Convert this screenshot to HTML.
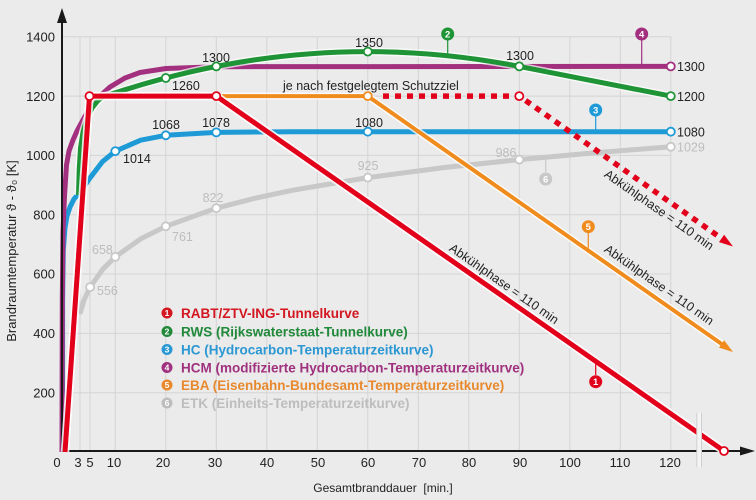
<!DOCTYPE html>
<html><head><meta charset="utf-8">
<style>
html,body{margin:0;padding:0;background:#ebebeb;}
svg{display:block;}
text{font-family:"Liberation Sans","DejaVu Sans",sans-serif;}
</style></head>
<body>
<svg width="756" height="500" viewBox="0 0 756 500" xmlns="http://www.w3.org/2000/svg">
<rect width="756" height="500" fill="#ebebeb"/>
<!-- grid -->
<g stroke="#d4d4d4" stroke-width="1">
<line x1="62" y1="36.8" x2="671" y2="36.8"/>
<line x1="62" y1="96.1" x2="671" y2="96.1"/>
<line x1="62" y1="155.4" x2="671" y2="155.4"/>
<line x1="62" y1="214.7" x2="671" y2="214.7"/>
<line x1="62" y1="274" x2="671" y2="274"/>
<line x1="62" y1="333.4" x2="671" y2="333.4"/>
<line x1="62" y1="392.7" x2="671" y2="392.7"/>
<line x1="80" y1="36.8" x2="80" y2="451"/>
<line x1="90" y1="36.8" x2="90" y2="451"/>
<line x1="115.3" y1="36.8" x2="115.3" y2="451"/>
<line x1="165.8" y1="36.8" x2="165.8" y2="451"/>
<line x1="216.3" y1="36.8" x2="216.3" y2="451"/>
<line x1="266.8" y1="36.8" x2="266.8" y2="451"/>
<line x1="317.3" y1="36.8" x2="317.3" y2="451"/>
<line x1="367.8" y1="36.8" x2="367.8" y2="451"/>
<line x1="418.3" y1="36.8" x2="418.3" y2="451"/>
<line x1="468.8" y1="36.8" x2="468.8" y2="451"/>
<line x1="519.3" y1="36.8" x2="519.3" y2="451"/>
<line x1="569.8" y1="36.8" x2="569.8" y2="451"/>
<line x1="620.3" y1="36.8" x2="620.3" y2="451"/>
<line x1="670.8" y1="36.8" x2="670.8" y2="451"/>
</g>

<!-- ETK gray -->
<polyline fill="none" stroke="#c8c8c8" stroke-width="5" stroke-linejoin="round" stroke-linecap="round"
 points="80.5,312 84,300 90.1,287.1 102.7,269.3 115.3,256.8 140.6,238.9 165.8,226.3 216.3,208.2 254.2,198.4 292.1,190.3 367.8,177.6 443.5,167.6 519.3,159.6 595.1,152.7 670.8,146.8"/>
<!-- HC blue -->
<polyline fill="none" stroke="#1e9ad6" stroke-width="5" stroke-linejoin="round"
 points="62.5,452 62.6,300 63.3,250 65,228 67,216 70,207 74,199 80,192 85,185.1 90.1,177.8 102.7,161.4 115.3,151.2 140.6,140.2 165.8,135.3 216.3,132.4 292.1,131.7 670.8,131.7"/>
<!-- HCM magenta -->
<polyline fill="none" stroke="#a2307f" stroke-width="5" stroke-linejoin="round"
 points="62,452 62.3,300 63,232 64.5,196 66.5,165 69,151 73,140 77,131 84,118 90,108 100,96 110,87 125,78 140,72.5 166,68.5 216,66.7 671,66.4"/>
<!-- RWS green -->
<path d="M78.5,195 L79.2,170 L80.5,148 L83,132 L87,119 L92,108 L98,100.5 L103,96.8 L115.3,92.8 Q317.3,26.87 519.3,66.42 L670.8,96.1" fill="none" stroke="#ffffff" stroke-opacity="0.7" stroke-width="8" stroke-linejoin="round"/>
<path d="M78.5,195 L79.2,170 L80.5,148 L83,132 L87,119 L92,108 L98,100.5 L103,96.8 L115.3,92.8 Q317.3,26.87 519.3,66.42 L670.8,96.1" fill="none" stroke="#1f9437" stroke-width="5" stroke-linejoin="round"/>

<!-- orange EBA -->
<path d="M222,96.1 L367.8,96.1 L724,345.6" fill="none" stroke="#ffffff" stroke-opacity="0.8" stroke-width="7"/>
<path d="M222,96.1 L367.8,96.1 L724,345.6" fill="none" stroke="#f08c1e" stroke-width="4"/>
<polygon points="0,0 -14,-4.5 -14,4.5" fill="#f08c1e" transform="translate(733,352) rotate(35)"/>

<!-- red dotted -->
<path d="M383,96.1 L519.3,96.1 L724,240.2" fill="none" stroke="#e2001a" stroke-width="5.5" stroke-dasharray="6 6"/>
<polygon points="0,0 -14,-4.5 -14,4.5" fill="#e2001a" transform="translate(733,246.5) rotate(35)"/>

<!-- axes -->
<line x1="62" y1="451" x2="742" y2="451" stroke="#1a1a1a" stroke-width="2"/>
<polygon points="755,451 740,446.5 740,455.5" fill="#1a1a1a"/>
<line x1="62" y1="452" x2="62" y2="20" stroke="#1a1a1a" stroke-width="2"/>
<polygon points="62,8 57,23 67,23" fill="#1a1a1a"/>

<!-- red RABT -->
<path d="M65,452 L89.5,96.1 L216.3,96.1 L724,451" fill="none" stroke="#ffffff" stroke-opacity="0.85" stroke-width="8.5"/>
<path d="M65,452 L89.5,96.1 L216.3,96.1 L724,451" fill="none" stroke="#e2001a" stroke-width="5"/>

<!-- axis break -->
<rect x="697" y="413" width="4.5" height="54" fill="#f4f4f4"/>
<line x1="696.8" y1="413" x2="696.8" y2="467" stroke="#cfcfcf" stroke-width="1"/>
<line x1="701.5" y1="413" x2="701.5" y2="467" stroke="#cfcfcf" stroke-width="1"/>

<!-- markers -->
<g fill="#fff" stroke-width="1.8">
<g stroke="#c8c8c8">
<circle cx="90.1" cy="287.1" r="4"/><circle cx="115.3" cy="256.8" r="4"/><circle cx="165.8" cy="226.3" r="4"/><circle cx="216.3" cy="208.2" r="4"/><circle cx="367.8" cy="177.6" r="4"/><circle cx="519.3" cy="159.6" r="4"/><circle cx="670.8" cy="146.8" r="4"/>
</g>
<g stroke="#1e9ad6">
<circle cx="115.3" cy="151.2" r="4"/><circle cx="165.8" cy="135.3" r="4"/><circle cx="216.3" cy="132.4" r="4"/><circle cx="367.8" cy="131.7" r="4"/><circle cx="670.8" cy="131.7" r="4"/>
</g>
<g stroke="#1f9437">
<circle cx="165.8" cy="78" r="4"/><circle cx="216.3" cy="66.4" r="4"/><circle cx="367.8" cy="51.6" r="4"/><circle cx="519.3" cy="66.4" r="4"/><circle cx="670.8" cy="96.1" r="4"/>
</g>
<circle cx="670.8" cy="66.4" r="4" stroke="#a2307f"/>
<circle cx="367.8" cy="96.1" r="4" stroke="#f08c1e"/>
<g stroke="#e2001a">
<circle cx="89.5" cy="96.1" r="4"/><circle cx="216.3" cy="96.1" r="4"/><circle cx="519.3" cy="96.1" r="4"/><circle cx="724" cy="451" r="4"/>
</g>
</g>

<!-- callouts -->
<g stroke-width="1.2">
<line x1="447.7" y1="40" x2="447.7" y2="54" stroke="#1f9437"/>
<line x1="641.7" y1="40" x2="641.7" y2="64" stroke="#a2307f"/>
<line x1="595.7" y1="116" x2="595.7" y2="130" stroke="#1e9ad6"/>
<line x1="545.7" y1="172" x2="545.7" y2="157" stroke="#c8c8c8"/>
<line x1="588.3" y1="233" x2="588.3" y2="250" stroke="#f08c1e"/>
<line x1="595.7" y1="375" x2="595.7" y2="362" stroke="#e2001a"/>
</g>
<g font-weight="bold" font-size="9.5" fill="#fff" text-anchor="middle">
<circle cx="447.7" cy="34" r="6.5" fill="#1f9437"/><text x="447.7" y="37.4">2</text>
<circle cx="641.7" cy="34" r="6.5" fill="#a2307f"/><text x="641.7" y="37.4">4</text>
<circle cx="595.7" cy="110" r="6.5" fill="#1e9ad6"/><text x="595.7" y="113.4">3</text>
<circle cx="545.7" cy="179" r="6.5" fill="#c8c8c8"/><text x="545.7" y="182.4">6</text>
<circle cx="588.3" cy="226.7" r="6.5" fill="#f08c1e"/><text x="588.3" y="230.1">5</text>
<circle cx="595.7" cy="381.7" r="6.5" fill="#e2001a"/><text x="595.7" y="385.1">1</text>
</g>

<!-- value labels -->
<g font-size="12.5" fill="#222">
<text x="172" y="90">1260</text>
<text x="216" y="62" text-anchor="middle">1300</text>
<text x="369" y="47" text-anchor="middle">1350</text>
<text x="520" y="60" text-anchor="middle">1300</text>
<text x="166" y="129" text-anchor="middle">1068</text>
<text x="216" y="127" text-anchor="middle">1078</text>
<text x="123" y="163">1014</text>
<text x="369" y="127" text-anchor="middle">1080</text>
<text x="283" y="90">je nach festgelegtem Schutzziel</text>
<text x="677" y="71">1300</text>
<text x="677" y="101">1200</text>
<text x="677" y="136.5">1080</text>
</g>
<g font-size="12.5" fill="#bdbdbd">
<text x="677" y="151.5">1029</text>
<text x="213" y="202" text-anchor="middle">822</text>
<text x="172" y="241">761</text>
<text x="92" y="254">658</text>
<text x="97" y="295">556</text>
<text x="368" y="170" text-anchor="middle">925</text>
<text x="506" y="157" text-anchor="middle">986</text>
</g>

<!-- cooling labels -->
<g font-size="12.5" fill="#222" text-anchor="middle" dominant-baseline="central">
<text transform="translate(504,284) rotate(35)">Abkühlphase = 110 min</text>
<text transform="translate(659,285) rotate(35)">Abkühlphase = 110 min</text>
<text transform="translate(659,210) rotate(35)">Abkühlphase = 110 min</text>
</g>

<!-- legend -->
<g font-weight="bold" font-size="13.5">
<circle cx="167" cy="313" r="5.5" fill="#d3161f"/>
<circle cx="167" cy="331.5" r="5.5" fill="#21893a"/>
<circle cx="167" cy="349.5" r="5.5" fill="#2b97d3"/>
<circle cx="167" cy="367.5" r="5.5" fill="#a0317f"/>
<circle cx="167" cy="385" r="5.5" fill="#e8892e"/>
<circle cx="167" cy="403" r="5.5" fill="#bdbdbd"/>
<g font-size="8.5" fill="#fff" text-anchor="middle">
<text x="167" y="316">1</text><text x="167" y="334.5">2</text><text x="167" y="352.5">3</text><text x="167" y="370.5">4</text><text x="167" y="388">5</text><text x="167" y="406">6</text>
</g>
<text x="181" y="318" fill="#d3161f">RABT/ZTV-ING-Tunnelkurve</text>
<text x="181" y="336.5" fill="#21893a">RWS (Rijkswaterstaat-Tunnelkurve)</text>
<text x="181" y="354.5" fill="#2b97d3">HC (Hydrocarbon-Temperaturzeitkurve)</text>
<text x="181" y="372.5" fill="#a0317f">HCM (modifizierte Hydrocarbon-Temperaturzeitkurve)</text>
<text x="181" y="390" fill="#e8892e">EBA (Eisenbahn-Bundesamt-Temperaturzeitkurve)</text>
<text x="181" y="408" fill="#bdbdbd">ETK (Einheits-Temperaturzeitkurve)</text>
</g>

<!-- y tick labels -->
<g font-size="13" fill="#222" text-anchor="end">
<text x="55" y="41.5">1400</text>
<text x="55" y="100.8">1200</text>
<text x="55" y="160">1000</text>
<text x="55" y="219.4">800</text>
<text x="55" y="278.7">600</text>
<text x="55" y="338">400</text>
<text x="55" y="397.4">200</text>
</g>
<!-- x tick labels -->
<g font-size="13" fill="#222" text-anchor="middle">
<text x="57" y="467">0</text>
<text x="78" y="467">3</text>
<text x="90" y="467">5</text>
<text x="114" y="467">10</text>
<text x="163" y="467">20</text>
<text x="215" y="467">30</text>
<text x="267" y="467">40</text>
<text x="318" y="467">50</text>
<text x="368" y="467">60</text>
<text x="419" y="467">70</text>
<text x="469" y="467">80</text>
<text x="520" y="467">90</text>
<text x="570" y="467">100</text>
<text x="620" y="467">110</text>
<text x="670" y="467">120</text>
</g>
<text x="383" y="492" font-size="12" fill="#222" text-anchor="middle" xml:space="preserve">Gesamtbranddauer  [min.]</text>
<text transform="translate(16,251) rotate(-90)" font-size="13" fill="#222" text-anchor="middle">Brandraumtemperatur ϑ - ϑ₀ [K]</text>
</svg>
</body></html>
